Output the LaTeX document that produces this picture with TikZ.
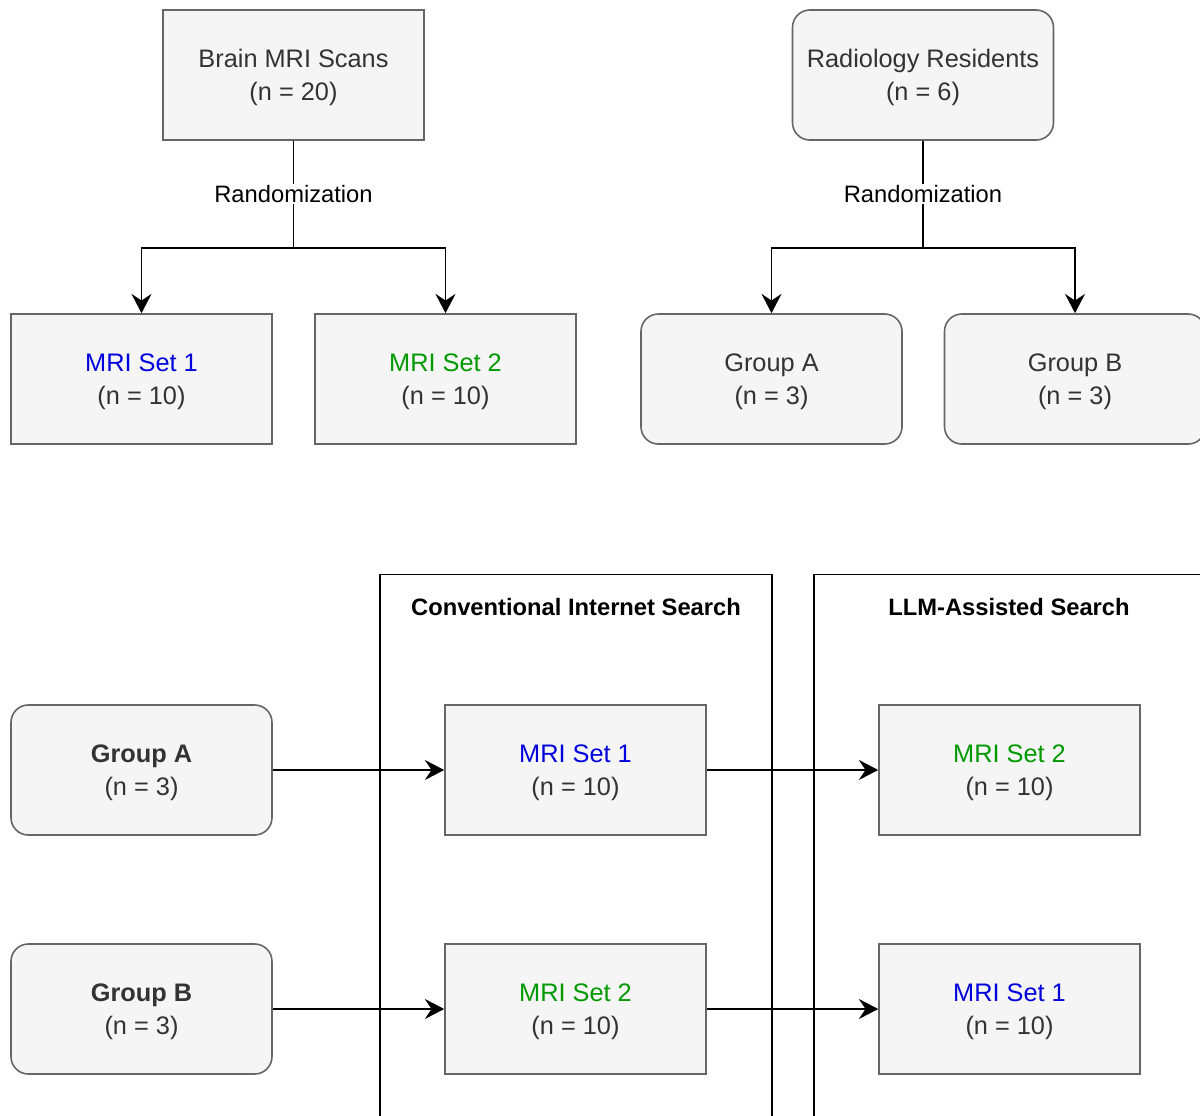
\documentclass[tikz,border=0pt]{standalone}
\usepackage{fontspec}
\setmainfont{Liberation Sans}
\usepackage{tikz}
\usetikzlibrary{arrows.meta}
\definecolor{boxfill}{HTML}{F5F5F5}
\definecolor{boxline}{HTML}{666666}
\definecolor{boxtext}{HTML}{333333}
\definecolor{setone}{HTML}{0000DD}
\definecolor{settwo}{HTML}{009900}
\tikzset{
    base/.style={draw=boxline, fill=boxfill, text=boxtext, line width=1.2pt,
        minimum width=195.75pt, minimum height=97.5pt, align=center,
        text depth=0pt, font=\fontsize{19}{24.75}\selectfont},
    soft/.style={base, rounded corners=13pt},
    frame/.style={draw, line width=1.2pt, minimum height=545pt},
    head/.style={font=\fontsize{17.8}{20}\selectfont\bfseries},
    rand/.style={fill=white, inner sep=1pt, font=\fontsize{17.8}{20}\selectfont},
    link/.style={line width=1.3pt, -{Stealth[length=14.5pt,width=15pt,inset=5pt]}},
}

\begin{document}
\begin{tikzpicture}
    [x=0.75pt, y=-0.75pt]
    \useasboundingbox (0,0) rectangle (1200,1115);
    \clip (0,0) rectangle (1200,1115);
    % randomization of scans and residents
    \node[base] (scans) at (293.5,75) {Brain MRI Scans\\(n = 20)};
    \node[base] (setA) at (141.5,379) {\textcolor{setone}{MRI Set 1}\\(n = 10)};
    \node[base] (setB) at (445.5,379) {\textcolor{settwo}{MRI Set 2}\\(n = 10)};
    \coordinate (splitL) at (293.5,248);
    \draw[line width=1.3pt] (scans) -- node[rand] {Randomization} (splitL);
    \draw[link] (splitL) -| (setA);
    \draw[link] (splitL) -| (setB);

    \node[soft] (residents) at (923,75) {Radiology Residents\\(n = 6)};
    \node[soft] (groupA) at (771.5,379) {Group A\\(n = 3)};
    \node[soft] (groupB) at (1075,379) {Group B\\(n = 3)};
    \coordinate (splitR) at (923,248);
    \draw[line width=1.3pt] (residents) -- node[rand] {Randomization} (splitR);
    \draw[link] (splitR) -| (groupA);
    \draw[link] (splitR) -| (groupB);

    % crossover design
    \node[frame, minimum width=294pt] (conv) at (576,938) {};
    \node[frame, minimum width=292.5pt] (llm) at (1009,938) {};
    \node[head] (convhead) at (576,607) {Conventional Internet Search};
    \node[head] (llmhead) at (1009,607) {LLM-Assisted Search};

    \node[soft] (armA) at (141.5,770) {\textbf{Group A}\\(n = 3)};
    \node[soft] (armB) at (141.5,1009) {\textbf{Group B}\\(n = 3)};
    \node[base] (convA) at (575.5,770) {\textcolor{setone}{MRI Set 1}\\(n = 10)};
    \node[base] (convB) at (575.5,1009) {\textcolor{settwo}{MRI Set 2}\\(n = 10)};
    \node[base] (llmA) at (1009.5,770) {\textcolor{settwo}{MRI Set 2}\\(n = 10)};
    \node[base] (llmB) at (1009.5,1009) {\textcolor{setone}{MRI Set 1}\\(n = 10)};
    \draw[link] (armA) -- (convA);
    \draw[link] (convA) -- (llmA);
    \draw[link] (armB) -- (convB);
    \draw[link] (convB) -- (llmB);
\end{tikzpicture}
\end{document}
